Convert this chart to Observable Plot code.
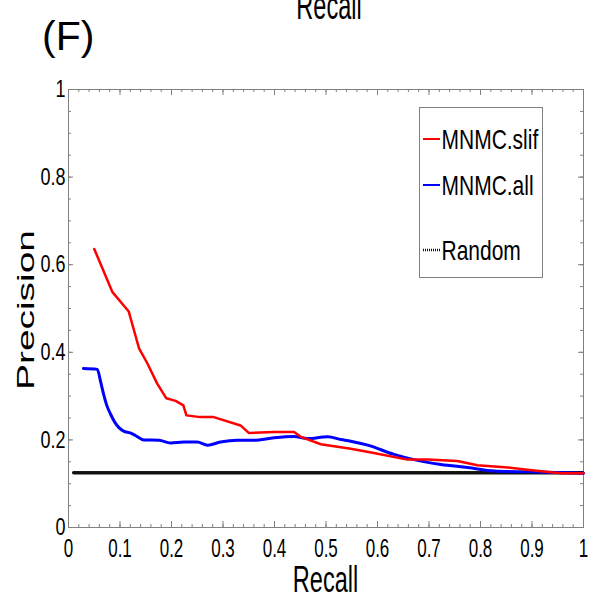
<!DOCTYPE html>
<html><head><meta charset="utf-8">
<script src="https://cdn.jsdelivr.net/npm/d3@7"></script>
<script src="https://cdn.jsdelivr.net/npm/@observablehq/plot@0.6"></script>
<style>
html,body{margin:0;padding:0;background:#fff;}
svg{display:block;}
</style></head><body><div id="chart"></div>
<script>
// ---- data ----
const slifRecall = [0.05,0.085,0.117,0.127,0.137,0.153,0.172,0.19,0.208,0.223,0.229,0.256,0.282,0.334,0.35,0.399,0.438,0.451,0.49,0.548,0.593,0.658,0.697,0.755,0.794,0.853,0.904,0.956,1.0];
const slifPrecision = [0.636,0.538,0.493,0.451,0.409,0.375,0.329,0.295,0.289,0.279,0.256,0.252,0.252,0.233,0.216,0.218,0.218,0.207,0.19,0.18,0.17,0.155,0.155,0.152,0.142,0.137,0.130,0.124,0.124];
const allRecall = [0.029,0.056,0.062,0.068,0.074,0.082,0.09,0.098,0.107,0.12,0.13,0.146,0.176,0.198,0.224,0.25,0.27,0.295,0.328,0.36,0.399,0.438,0.464,0.503,0.529,0.548,0.581,0.632,0.671,0.723,0.775,0.827,0.891,1.0];
const allPrecision = [0.363,0.361,0.335,0.305,0.28,0.258,0.24,0.228,0.22,0.216,0.21,0.2,0.199,0.193,0.195,0.195,0.188,0.195,0.199,0.199,0.205,0.208,0.203,0.207,0.201,0.197,0.188,0.167,0.155,0.144,0.137,0.129,0.127,0.124];
const randomRecall = [0.01, 1.0];
const randomPrecision = [0.125, 0.125];
const seriesNames = ["MNMC.slif", "MNMC.all", "Random"];
const seriesColors = ["#ff0000", "#0000ff", "#111111"];
const xTickValues = [0,0.1,0.2,0.3,0.4,0.5,0.6,0.7,0.8,0.9,1];
const xTickLabels = ["0","0.1","0.2","0.3","0.4","0.5","0.6","0.7","0.8","0.9","1"];
const yTickValues = [0,0.2,0.4,0.6,0.8,1];
const yTickLabels = ["0","0.2","0.4","0.6","0.8","1"];
const xMinorTicks = d3.range(0, 51).map(i => i / 50);
const yMinorTicks = d3.range(0, 21).map(i => i / 20);
const xLabel = "Recall";
const yLabel = "Precision";
const panelLabel = "(F)";

// ---- layout ----
const W = 601, H = 598, mL = 68, mR = 18, mT = 89, mB = 71;
const iW = W - mL - mR, iH = H - mT - mB;
const FONT = "Liberation Sans, Arial, Helvetica, sans-serif";
const axisGray = "#808080";

const slif = slifRecall.map((x, i) => ({x, y: slifPrecision[i]}));
const all = allRecall.map((x, i) => ({x, y: allPrecision[i]}));
const rnd = randomRecall.map((x, i) => ({x, y: randomPrecision[i]}));

const svg = Plot.plot({
  width: W, height: H,
  marginLeft: mL, marginRight: mR, marginTop: mT, marginBottom: mB,
  style: {fontFamily: FONT, background: "white", overflow: "visible", color: "black"},
  x: {domain: [0, 1]},
  y: {domain: [0, 1]},
  marks: [
    Plot.frame({stroke: axisGray, strokeWidth: 1}),
    Plot.tickX(xMinorTicks, {x: d => d, insetTop: iH - 3, stroke: axisGray}),
    Plot.tickX(xTickValues, {x: d => d, insetTop: iH - 6, stroke: axisGray}),
    Plot.tickX(xMinorTicks, {x: d => d, insetBottom: iH - 3, stroke: axisGray}),
    Plot.tickX(xTickValues, {x: d => d, insetBottom: iH - 6, stroke: axisGray}),
    Plot.tickY(yMinorTicks, {y: d => d, insetRight: iW - 3, stroke: axisGray}),
    Plot.tickY(yTickValues, {y: d => d, insetRight: iW - 5, stroke: axisGray}),
    Plot.tickY(yMinorTicks, {y: d => d, insetLeft: iW - 3, stroke: axisGray}),
    Plot.tickY(yTickValues, {y: d => d, insetLeft: iW - 5, stroke: axisGray}),
    Plot.line(rnd, {x: "x", y: "y", stroke: seriesColors[2], strokeWidth: 3.4, strokeDasharray: "1,1"}),
    Plot.line(all, {x: "x", y: "y", stroke: seriesColors[1], strokeWidth: 3, curve: "monotone-x"}),
    Plot.line(slif, {x: "x", y: "y", stroke: seriesColors[0], strokeWidth: 2.5}),
    Plot.axisX({ticks: xTickValues, tickFormat: d => xTickLabels[xTickValues.indexOf(d)], tickSize: 0, tickPadding: 11, fontSize: 17, label: null, fill: "black"}),
    Plot.axisY({ticks: yTickValues, tickFormat: d => yTickLabels[yTickValues.indexOf(d)], tickSize: 0, tickPadding: 3, fontSize: 18, label: null, fill: "black"})
  ]
});

const s = d3.select(svg);
function addText(str, x, y, size, tf, anchor) {
  s.append("text").attr("transform", `translate(${x},${y}) ${tf || ""}`)
    .attr("font-family", FONT).attr("font-size", size).attr("fill", "black")
    .attr("text-anchor", anchor || "start").text(str);
}
addText(panelLabel, 42, 50, 41, "", "start");
addText(xLabel, 329, 18.5, 23.5, "scale(1,1.65)", "middle");
addText(xLabel, 325.5, 592, 23.5, "scale(1,1.6)", "middle");
addText(yLabel, 34, 310, 24, "rotate(-90) scale(1.62,1)", "middle");

// legend
s.append("rect").attr("x", 419.5).attr("y", 107.5).attr("width", 123).attr("height", 170)
  .attr("fill", "white").attr("stroke", axisGray).attr("stroke-width", 1);
const legY = [139, 185, 250];
seriesNames.forEach((name, i) => {
  const ln = s.append("line").attr("x1", 423).attr("x2", 440).attr("y1", legY[i]).attr("y2", legY[i])
    .attr("stroke", seriesColors[i]).attr("stroke-width", i === 2 ? 2.5 : 2);
  if (i === 2) ln.attr("stroke-dasharray", "1,1");
  addText(name, 441.5, legY[i] + 9.5, 21, "scale(1,1.35)", "start");
});

document.getElementById("chart").appendChild(svg);

// vertical stretch of tick labels as in the reference (idempotent)
function stretch(label, k, size) {
  svg.querySelectorAll("g").forEach(g => {
    if (g.getAttribute("aria-label") !== label) return;
    g.querySelectorAll("text").forEach(t => {
      if (!t.hasAttribute("data-tf")) t.setAttribute("data-tf", t.getAttribute("transform") || "");
      t.setAttribute("font-size", size);
      t.style.fontSize = size + "px";
      t.setAttribute("transform", t.getAttribute("data-tf") + ` scale(1,${k})`);
    });
  });
}
stretch("x-axis tick label", 1.55, 17);
stretch("y-axis tick label", 1.35, 18);
</script>
</body></html>
